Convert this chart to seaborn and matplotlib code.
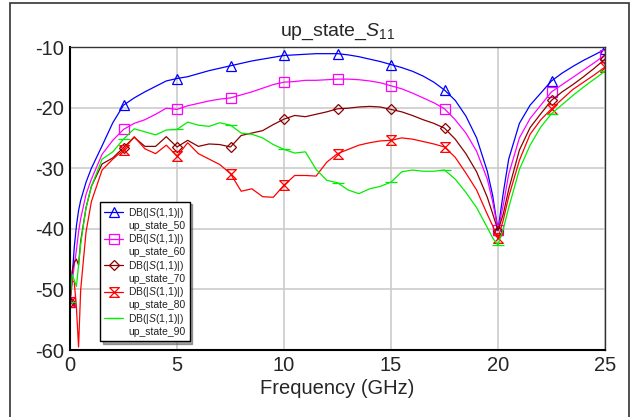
import numpy as np
import pandas as pd
import matplotlib
matplotlib.use('Agg')
import matplotlib.pyplot as plt
from matplotlib.lines import Line2D
from matplotlib.patches import Rectangle
import seaborn as sns

# frequency grid (GHz)
freq = [0, 0.1, 0.2, 0.3, 0.4, 0.5, 0.75, 1.0, 1.5, 2.0, 2.5, 3.0, 3.5, 4.0, 4.5,
        5.0, 5.5, 6.0, 6.5, 7.0, 7.5, 8.0, 8.5, 9.0, 9.5, 10.0, 10.5, 11.0, 11.5,
        12.0, 12.5, 13.0, 13.5, 14.0, 14.5, 15.0, 15.5, 16.0, 16.5, 17.0, 17.5,
        18.0, 18.5, 19.0, 19.5, 19.75, 20.0, 20.25, 20.5, 21.0, 21.5, 22.0, 22.5,
        23.0, 23.5, 24.0, 24.5, 25.0]

s50 = [-52, -48, -43, -39.5, -37, -35.3, -32.3, -30, -26.3, -22.5, -19.6, -18.4, -17.4,
       -16.5, -15.6, -15.2, -14.9, -14.4, -13.9, -13.5, -13.1, -12.7, -12.3, -12.0, -11.7,
       -11.4, -11.3, -11.2, -11.1, -11.1, -11.1, -11.3, -11.6, -12.0, -12.4, -12.9, -13.4,
       -14.0, -14.8, -15.8, -17.1, -18.8, -21.4, -25.0, -30.5, -34.5, -40.2, -34, -28.5,
       -22.6, -19.6, -17.6, -15.6, -14.3, -13.2, -12.2, -11.3, -10.4]

s60 = [-52, -49, -46, -43.5, -40.5, -38.3, -34.3, -31.8, -27.7, -25.4, -23.6, -22.6, -22.0,
       -21.1, -20.1, -20.3, -19.7, -19.3, -18.9, -18.6, -18.4, -17.9, -17.4, -16.8, -16.2,
       -15.8, -15.7, -15.5, -15.5, -15.4, -15.3, -15.3, -15.4, -15.6, -15.9, -16.4, -16.9,
       -17.6, -18.4, -19.2, -20.2, -22.0, -24.2, -27.2, -31.8, -35.5, -40.2, -36, -31,
       -25, -21.8, -19.6, -17.4, -16.2, -15.0, -13.8, -12.6, -11.3]

s70 = [-52, -47, -45.5, -45, -46, -42, -36.5, -33, -29.3, -28.3, -26.6, -24.9, -26.4,
       -26.4, -24.8, -26.5, -25.4, -26.4, -26.0, -26.1, -26.5, -24.6, -24.2, -23.8, -22.8,
       -21.9, -21.3, -21.5, -21.1, -20.7, -20.2, -20.1, -19.9, -19.8, -19.9, -20.3, -20.7,
       -21.3, -22.0, -22.6, -23.4, -25.2, -27.6, -30.6, -34.8, -37.5, -40.3, -37.5, -33.5,
       -27, -23.3, -21.0, -18.8, -17.4, -16.2, -14.9, -13.5, -12.0]

s80 = [-52, -48.5, -48.8, -53, -59.5, -50, -40.5, -35.5, -30.3, -28.5, -27.0, -24.8, -26.8,
       -27.6, -26.2, -28.0, -25.8, -27.6, -28.5, -29.4, -30.9, -33.8, -33.4, -34.7, -34.8,
       -32.8, -31.2, -31.2, -31.3, -29.0, -27.6, -26.9, -26.2, -25.8, -25.5, -25.4, -25.0,
       -25.2, -25.6, -26.0, -26.5, -28.2, -30.8, -33.6, -37.6, -39.5, -41.6, -38.5, -34.7,
       -28.7, -24.4, -22.0, -20.2, -18.6, -17.0, -15.8, -14.6, -13.3]

s90 = [-52, -47.5, -48.5, -49.5, -46, -42.5, -36.5, -33, -28.5, -27.3, -25.2, -23.5, -24.0,
       -24.5, -23.7, -23.6, -22.4, -22.9, -23.1, -22.5, -22.9, -24.2, -24.4, -25.0, -26.1,
       -26.9, -27.5, -27.3, -30.2, -32.0, -32.4, -33.6, -34.2, -33.4, -33.0, -32.3, -30.6,
       -30.3, -30.5, -30.5, -30.3, -31.8, -34.0, -36.5, -39.8, -41.5, -42.7, -40, -36.5,
       -30.2, -26.2, -23.2, -21.0, -19.5, -18.0, -16.6, -15.3, -14.0]

names = ['up_state_50', 'up_state_60', 'up_state_70', 'up_state_80', 'up_state_90']
colors = ['#0000ff', '#ff00ff', '#8b0000', '#ff0000', '#00ee00']
hourglass = [(-1, 1), (1, 1), (-1, -1), (1, -1), (-1, 1)]
markers = ['^', 's', 'D', hourglass, '_']
msizes = [7, 7.5, 5.5, 7, 9]

sns.set_style('white')
plt.rcParams['font.family'] = ['Liberation Sans', 'DejaVu Sans']
plt.rcParams['mathtext.fontset'] = 'custom'
plt.rcParams['mathtext.rm'] = 'Liberation Sans'
plt.rcParams['mathtext.it'] = 'Liberation Sans:italic'
plt.rcParams['axes.unicode_minus'] = False

fig = plt.figure(figsize=(6.35, 4.17), dpi=100)
ax = fig.add_axes([70 / 635, 1 - 350 / 417, 535 / 635, 303 / 417])

# outer frame of the plot window
fig.patches.append(Rectangle((10 / 635, -0.02), 619 / 635, 1.02 - 3 / 417,
                             transform=fig.transFigure, fill=False,
                             edgecolor='#333333', lw=1.2))

mark_idx = [i for i, f in enumerate(freq) if abs(f / 2.5 - round(f / 2.5)) < 1e-9]

series = [s50, s60, s70, s80, s90]
handles = []
labels = []
for name, vals, c, m, ms in zip(names, series, colors, markers, msizes):
    df = pd.DataFrame({'Frequency': freq, 'dB': vals})
    sns.lineplot(data=df, x='Frequency', y='dB', ax=ax, color=c, lw=0.9,
                 marker=m, markevery=mark_idx, markersize=ms, mfc='none',
                 mec=c, mew=0.9, errorbar=None, legend=False)
    # two legend rows per trace: handle on the first, name on the second
    handles.append(Line2D([], [], color=c, lw=0.9, marker=m, markersize=ms,
                          mfc='none', mec=c, mew=0.9))
    labels.append('DB(|$S$(1,1)|)')
    handles.append(Line2D([], [], linestyle='none'))
    labels.append(name)

ax.set_xlim(0, 25)
ax.set_ylim(-60, -10)
ax.set_xticks([0, 5, 10, 15, 20, 25])
ax.set_yticks([-60, -50, -40, -30, -20, -10])
ax.grid(True, color='#cccccc', lw=1.2)
ax.tick_params(labelsize=14.5, length=0, pad=4)
for side in ['left', 'bottom']:
    ax.spines[side].set_color('black')
    ax.spines[side].set_linewidth(1.5)
for side in ['top', 'right']:
    ax.spines[side].set_color('#333333')
    ax.spines[side].set_linewidth(1.0)

ax.set_title('up_state_$S_{11}$', fontsize=14, pad=8)
ax.set_xlabel('Frequency (GHz)', fontsize=14.5, labelpad=3)
ax.set_ylabel('')

leg = ax.legend(handles, labels, loc='upper left', bbox_to_anchor=(0.056, 0.49),
                borderaxespad=0, fontsize=7.5, frameon=True, fancybox=False,
                shadow=True, handlelength=1.8, labelspacing=0.12,
                borderpad=0.4, handletextpad=0.5)
leg.get_frame().set_edgecolor('black')
leg.get_frame().set_linewidth(1.0)
for t in leg.get_texts():
    t.set_color('#222222')

fig.savefig('out.png', dpi=100)
